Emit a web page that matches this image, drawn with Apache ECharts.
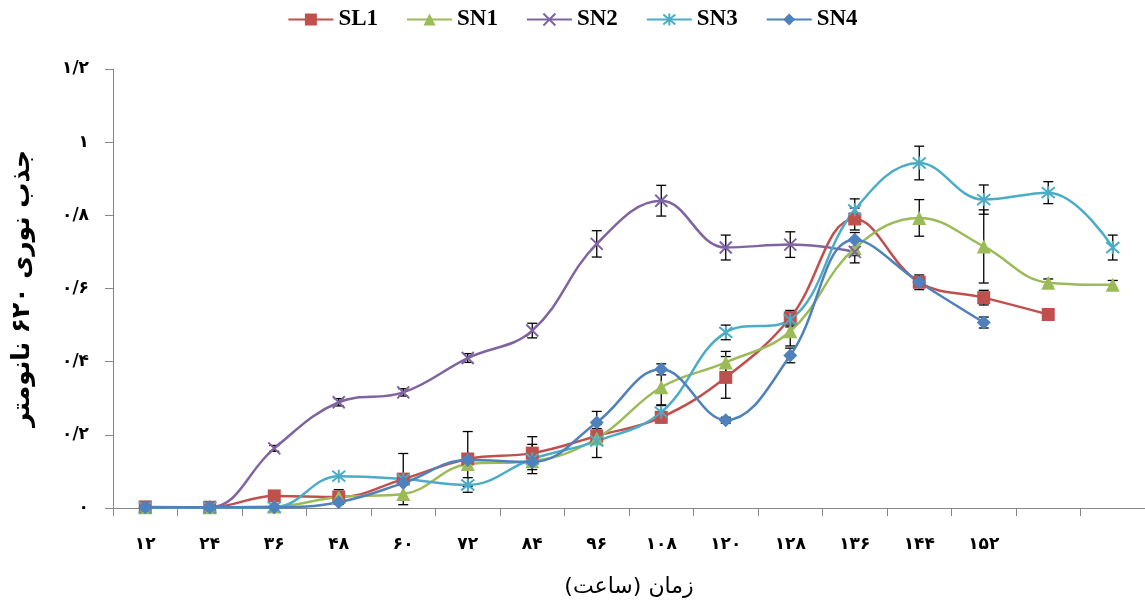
<!DOCTYPE html>
<html>
<head>
<meta charset="utf-8">
<script src="https://cdn.jsdelivr.net/npm/echarts@6/dist/echarts.min.js"></script>
<style>
html,body{margin:0;padding:0;background:#fff;}
#c{width:1145px;height:603px;}
</style>
</head>
<body>
<div id="c"></div>
<script>
// Hours (categories); the last two are unlabeled in the source
const categories = ['12','24','36','48','60','72','84','96','108','120','128','136','144','152','160','168'];
const xTickLabels = ['۱۲','۲۴','۳۶','۴۸','۶۰','۷۲','۸۴','۹۶','۱۰۸','۱۲۰','۱۲۸','۱۳۶','۱۴۴','۱۵۲','',''];
const yTickValues = [0, 0.2, 0.4, 0.6, 0.8, 1, 1.2];
const yTickLabels = ['۰','۰/۲','۰/۴','۰/۶','۰/۸','۱','۱/۲'];

const SL1 = [0.003,0.002,0.033,0.03,0.079,0.134,0.15,0.197,0.248,0.357,0.52,0.79,0.617,0.575,0.529,null];
const SN1 = [0.002,0.002,0.004,0.03,0.038,0.12,0.128,0.19,0.33,0.398,0.483,0.71,0.793,0.715,0.616,0.61];
const SN2 = [0.002,0.002,0.163,0.289,0.316,0.41,0.485,0.722,0.84,0.712,0.72,0.70,null,null,null,null];
const SN3 = [0.002,0.002,0.002,0.087,0.079,0.063,0.134,0.183,0.262,0.48,0.515,0.815,0.943,0.843,0.862,0.712];
const SN4 = [0.002,0.002,0.002,0.016,0.068,0.131,0.126,0.234,0.379,0.24,0.417,0.733,0.617,0.507,null,null];

// error bar half-widths (null = no bar)
const SL1err = [null,null,null,0.02,0.07,0.075,0.045,0.02,0.015,0.057,0.02,0.03,0.02,0.02,0.01,null];
const SN1err = [null,null,null,null,null,null,null,null,0.05,0.03,0.04,0.02,0.05,0.1,0.01,0.012];
const SN2err = [null,null,0.008,0.01,0.01,0.012,0.02,0.036,0.042,0.034,0.035,0.03,null,null,null,null];
const SN3err = [null,null,null,null,null,0.02,0.04,0.045,0.02,0.02,0.02,0.03,0.046,0.04,0.03,0.034];
const SN4err = [null,null,null,null,null,null,null,0.03,0.015,0.008,0.02,0.02,0.01,0.015,null,null];

const seriesDefs = [
  {name:'SL1', data:SL1, err:SL1err, color:'#C0504D', symbol:'rect', size:13},
  {name:'SN1', data:SN1, err:SN1err, color:'#9BBB59', symbol:'triangle', size:14},
  {name:'SN2', data:SN2, err:SN2err, color:'#8064A2', symbol:'path://M0,0L10,10M10,0L0,10', size:12, stroke:true},
  {name:'SN3', data:SN3, err:SN3err, color:'#4BACC6', symbol:'path://M0,0L10,10M10,0L0,10M5,-1L5,11', size:13, stroke:true},
  {name:'SN4', data:SN4, err:SN4err, color:'#4F81BD', symbol:'diamond', size:14}
];

const series = [];
seriesDefs.forEach(d => {
  const ed = [];
  d.err.forEach((e, i) => { if (e != null && d.data[i] != null) ed.push([i, d.data[i], e]); });
  series.push({
    type:'custom', z:1, silent:true, data:ed,
    renderItem:function(params, api){
      const x = api.value(0), c = api.value(1), e = api.value(2);
      const lo = api.coord([x, c - e]), hi = api.coord([x, c + e]);
      const hw = 5;
      const st = {stroke:'#000', lineWidth:1.3};
      return {type:'group', children:[
        {type:'line', shape:{x1:lo[0],y1:lo[1],x2:hi[0],y2:hi[1]}, style:st},
        {type:'line', shape:{x1:lo[0]-hw,y1:lo[1],x2:lo[0]+hw,y2:lo[1]}, style:st},
        {type:'line', shape:{x1:hi[0]-hw,y1:hi[1],x2:hi[0]+hw,y2:hi[1]}, style:st}
      ]};
    }
  });
});
seriesDefs.forEach(d => {
  series.push({
    name:d.name, type:'line', z:3, data:d.data, smooth:0.4, connectNulls:false,
    symbol:d.symbol, symbolSize:d.size, showAllSymbol:true,
    lineStyle:{color:d.color, width:2.5},
    itemStyle: d.stroke ? {color:d.color, borderColor:d.color, borderWidth:2} : {color:d.color, borderWidth:0},
    emphasis:{disabled:true}
  });
});

const chart = echarts.init(document.getElementById('c'), null, {renderer:'canvas'});
chart.setOption({
  animation:false,
  backgroundColor:'#fff',
  legend:{
    top:3, left:'center', itemWidth:45, itemHeight:15, itemGap:28,
    data:seriesDefs.map(d=>d.name),
    textStyle:{fontFamily:'Liberation Serif', fontWeight:'bold', fontSize:23, color:'#000'}
  },
  grid:{left:113, right:-5, top:69, bottom:95, containLabel:false},
  xAxis:{
    type:'category', data:categories, boundaryGap:true,
    name:'زمان (ساعت)', nameLocation:'middle', nameGap:68,
    nameTextStyle:{fontFamily:'DejaVu Sans', fontSize:22, color:'#000'},
    axisLine:{lineStyle:{color:'#868686', width:1}},
    axisTick:{show:true, length:8, alignWithLabel:false, lineStyle:{color:'#868686'}},
    axisLabel:{interval:0, margin:28, fontFamily:'DejaVu Sans', fontSize:17, fontWeight:'bold', color:'#000',
      formatter:(v, i) => xTickLabels[i]},
    splitLine:{show:false}
  },
  yAxis:{
    type:'value', min:0, max:1.2, interval:0.2,
    name:'جذب نوری ۶۲۰ نانومتر', nameLocation:'middle', nameGap:78, nameRotate:90,
    nameTextStyle:{fontFamily:'DejaVu Sans', fontSize:25, fontWeight:'bold', color:'#000'},
    axisLine:{show:true, lineStyle:{color:'#868686', width:1}},
    axisTick:{show:true, length:8, lineStyle:{color:'#868686'}},
    axisLabel:{margin:24, fontFamily:'DejaVu Sans', fontSize:17, fontWeight:'bold', color:'#000',
      formatter:(v) => { const i = yTickValues.findIndex(t => Math.abs(t - v) < 1e-6); return i >= 0 ? yTickLabels[i] : ''; }},
    splitLine:{show:false}
  },
  series:series
});
</script>
</body>
</html>
